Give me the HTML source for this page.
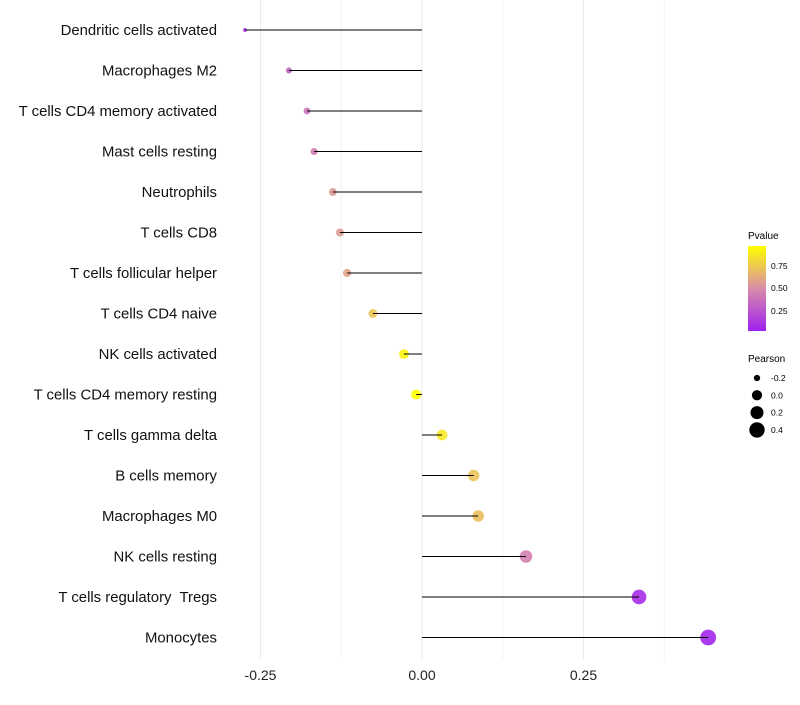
<!DOCTYPE html>
<html><head><meta charset="utf-8"><style>
body{margin:0;background:#fff;font-family:"Liberation Sans",sans-serif}
svg text{font-family:"Liberation Sans",sans-serif;white-space:pre}
</style></head><body>
<svg id="chart" width="800" height="700" xmlns="http://www.w3.org/2000/svg">
<defs><linearGradient id="pg" x1="0" y1="1" x2="0" y2="0">
<stop offset="0" stop-color="#A020F0"/><stop offset="0.5" stop-color="#D98CA8"/><stop offset="1" stop-color="#FFFF00"/>
</linearGradient></defs>
<g id="grid"></g>
<g id="marks"></g>
<g id="labels"></g>
<g id="xticks"></g>
<g>
<text x="748" y="239" font-size="10">Pvalue</text>
<rect x="748" y="246" width="18" height="85" fill="url(#pg)"/>
<text x="771" y="269" font-size="8.5">0.75</text>
<text x="771" y="291" font-size="8.5">0.50</text>
<text x="771" y="314" font-size="8.5">0.25</text>
</g>
<g id="sizeleg">
<text x="748" y="362" font-size="10">Pearson</text>
</g>
</svg>
<script>
const categories=["Dendritic cells activated","Macrophages M2","T cells CD4 memory activated","Mast cells resting","Neutrophils","T cells CD8","T cells follicular helper","T cells CD4 naive","NK cells activated","T cells CD4 memory resting","T cells gamma delta","B cells memory","Macrophages M0","NK cells resting","T cells regulatory  Tregs","Monocytes"];
const pearson=[-0.274,-0.206,-0.178,-0.167,-0.138,-0.127,-0.116,-0.076,-0.028,-0.009,0.031,0.080,0.087,0.161,0.336,0.443];
const pvalues=[0.12,0.32,0.38,0.42,0.55,0.57,0.6,0.75,0.95,0.99,0.9,0.74,0.72,0.45,0.06,0.03];
const xTicks=[-0.25,0,0.25];
const xTickLabels=["-0.25","0.00","0.25"];
const sizeLegend=[-0.2,0.0,0.2,0.4];
const sizeLegendLabels=["-0.2","0.0","0.2","0.4"];
const NS="http://www.w3.org/2000/svg";
const xs=v=>422+v*646;
const ys=i=>30+i*40.5;
const rs=v=>Math.sqrt(Math.max(2.5,3+(v+0.274)*46/0.717))*1.13;
function lerp(a,b,t){return a.map((c,i)=>Math.round(c+(b[i]-c)*t));}
function col(p){const lo=[160,32,240],mid=[217,140,168],hi=[255,255,0];
 const c=p<0.5?lerp(lo,mid,p/0.5):lerp(mid,hi,(p-0.5)/0.5);return `rgb(${c})`;}
function mk(tag,attrs,parent){const e=document.createElementNS(NS,tag);for(const k in attrs)e.setAttribute(k,attrs[k]);parent.appendChild(e);return e;}
const grid=document.getElementById('grid'),marks=document.getElementById('marks'),labels=document.getElementById('labels'),xt=document.getElementById('xticks');
[-0.125,0.125,0.375].forEach(v=>{const l=mk('line',{x1:xs(v),x2:xs(v),y1:0,y2:660,stroke:'#f4f4f4','stroke-width':1},grid);

});
xTicks.forEach((v,i)=>{const l=mk('line',{x1:xs(v),x2:xs(v),y1:0,y2:660,stroke:'#ebebeb','stroke-width':1},grid);


const t=mk('text',{x:xs(v),y:680,'font-size':14,'text-anchor':'middle',fill:'#222'},xt);t.textContent=xTickLabels[i];

});
categories.forEach((c,i)=>{const y=ys(i);
 const t=mk('text',{x:217,y:y+5,'font-size':14.9,'text-anchor':'end',fill:'#111'},labels);t.textContent=c;
 
 
 const p=mk('circle',{cx:xs(pearson[i]),cy:y,r:rs(pearson[i]),fill:col(pvalues[i]),'fill-opacity':0.9},marks);
 
 
 const l=mk('line',{x1:xs(0),x2:xs(pearson[i]),y1:y,y2:y,stroke:'#000','stroke-width':1},marks);
 
 });
const sl=document.getElementById('sizeleg');
sizeLegend.forEach((v,i)=>{const y=378+i*17.3;
 const c=mk('circle',{cx:757,cy:y,r:rs(v),fill:'#000'},sl);
 
 
 const t=mk('text',{x:771,y:y+3,'font-size':8.5},sl);t.textContent=sizeLegendLabels[i];
 
 });
</script>
</body></html>
